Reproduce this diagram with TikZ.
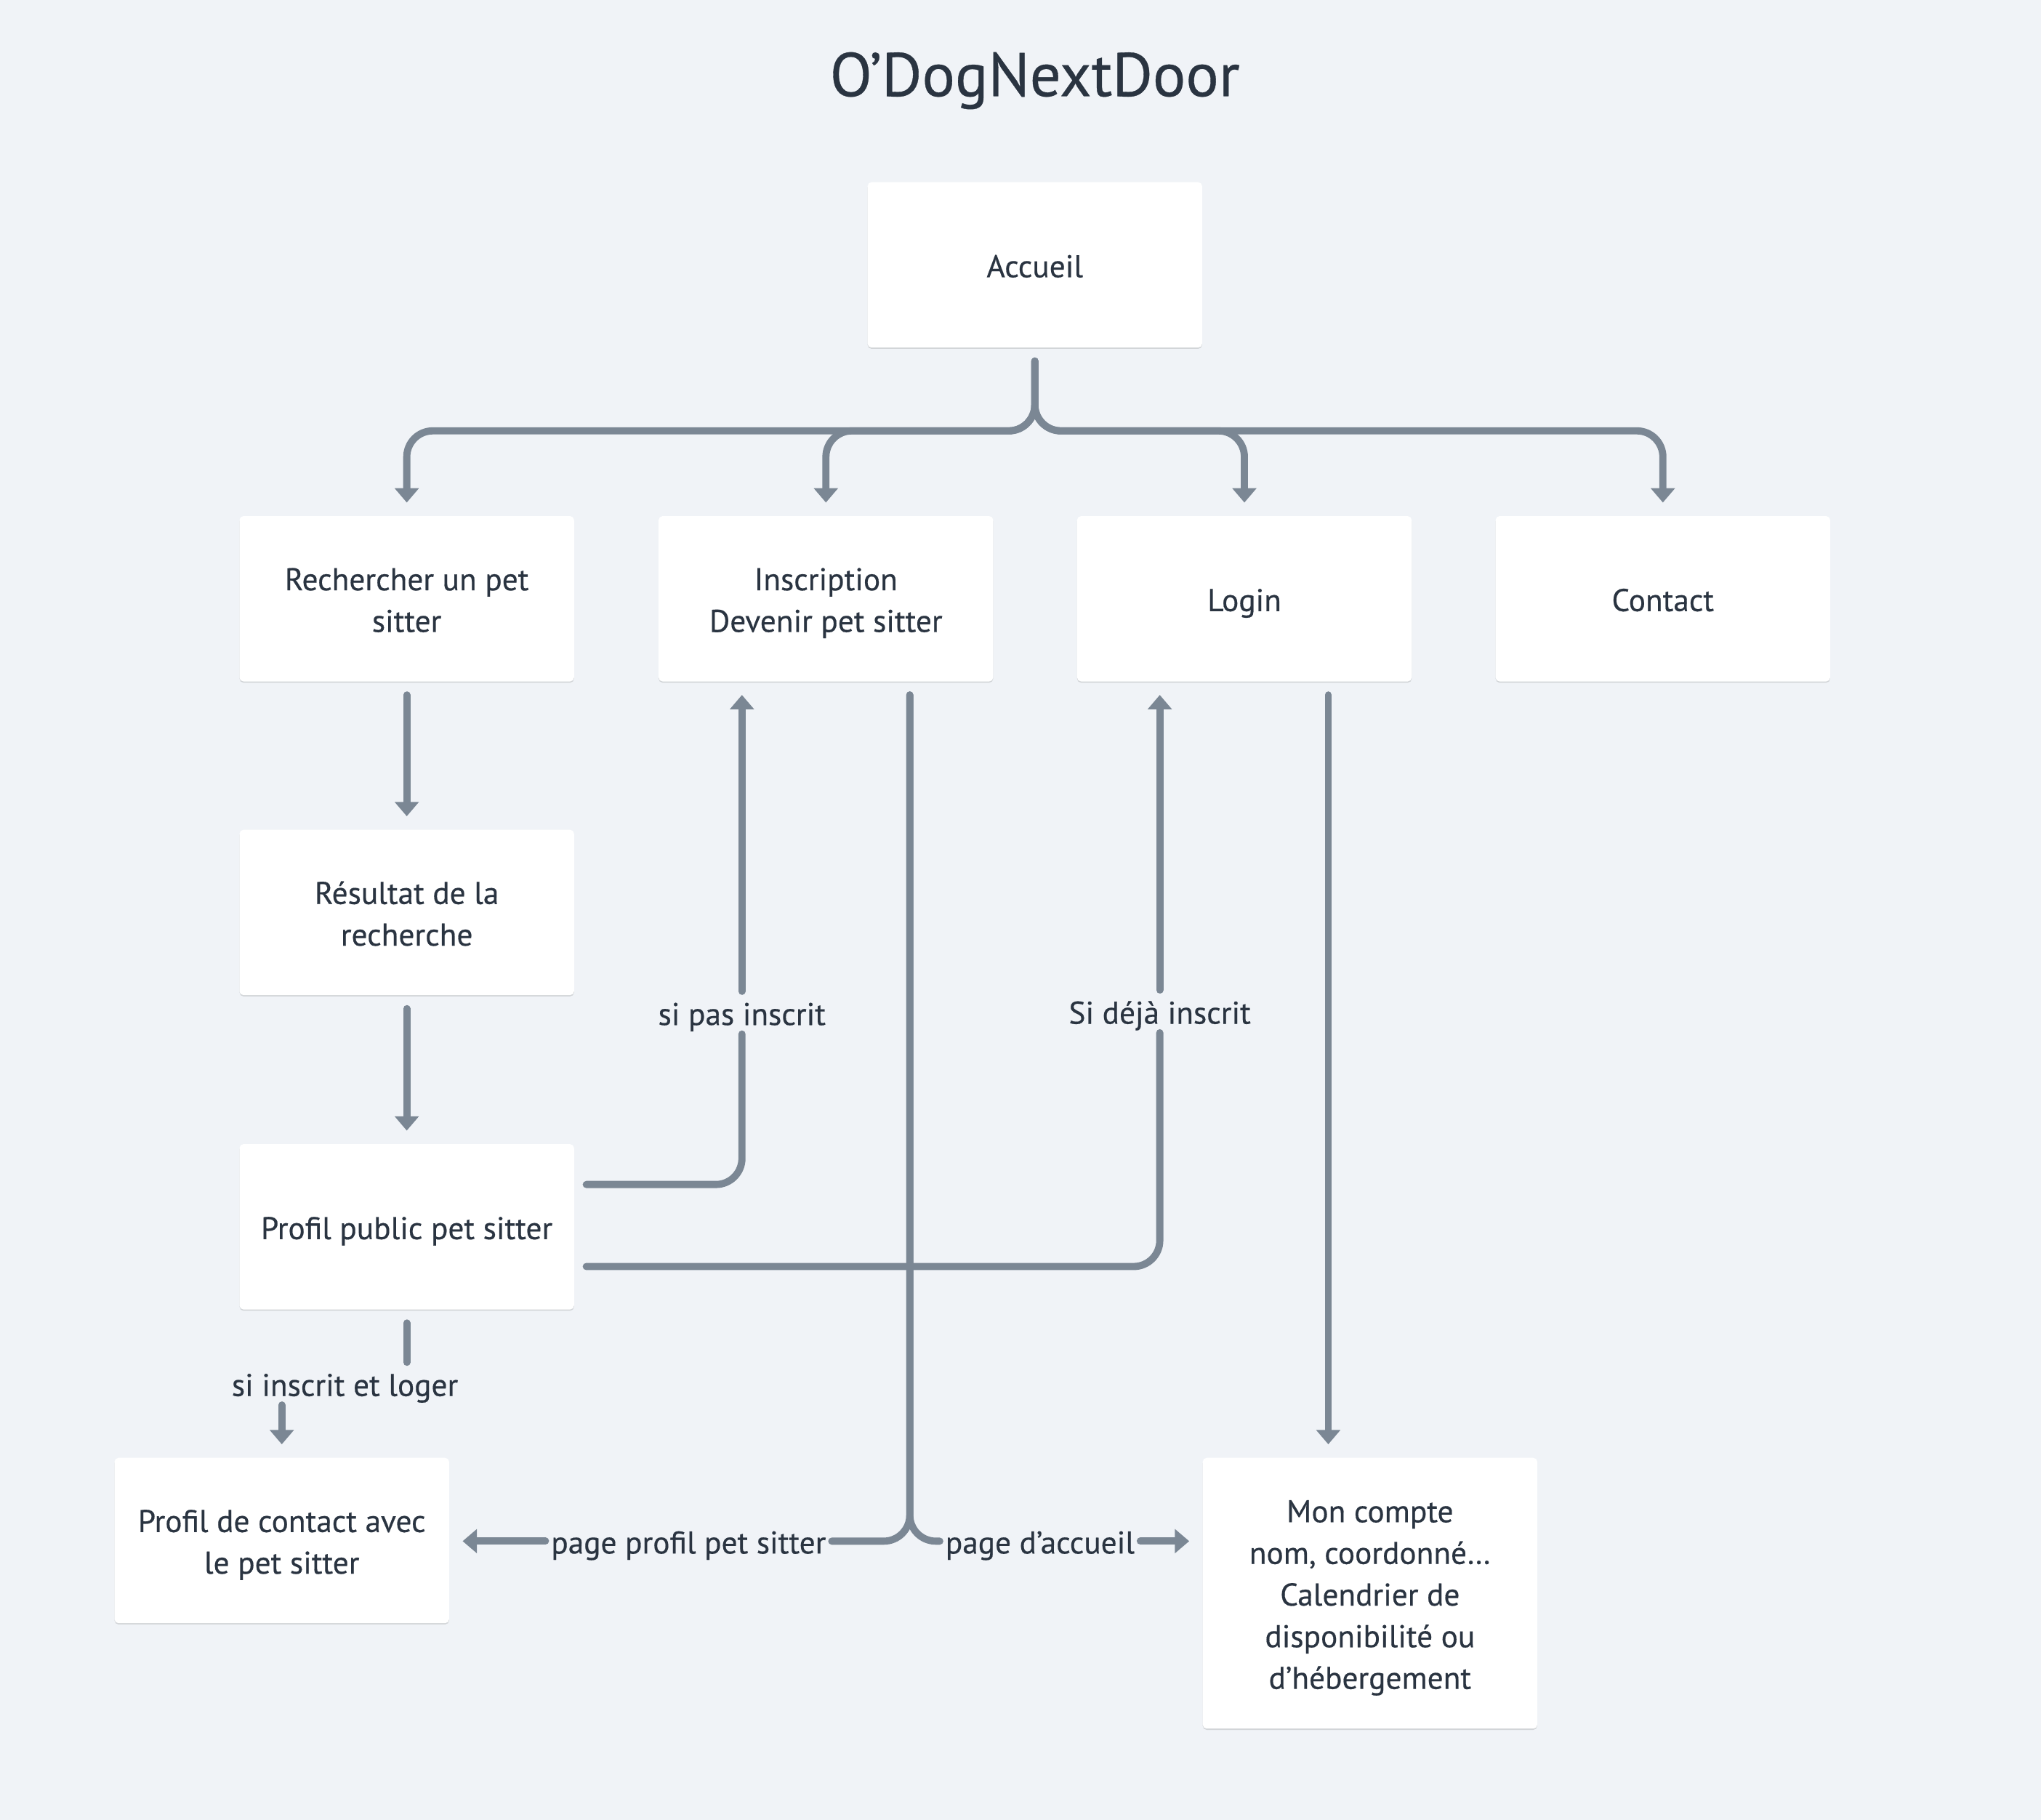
\documentclass[tikz,border=0pt]{standalone}
\usepackage{fontspec}
\setmainfont{PT Sans}[FakeBold=0.4]
\usetikzlibrary{arrows.meta,calc,shadows}
\definecolor{bg}{HTML}{F0F3F7}
\definecolor{ink}{HTML}{2A3441}
\definecolor{edgec}{HTML}{7B8794}
\newcommand{\boxstrut}{\rule[-3.25pt]{0pt}{16pt}}
\begin{document}
\begin{tikzpicture}[x=0.5pt,y=-0.5pt,
  box/.style={rectangle, fill=white, rounded corners=1.5pt, minimum width=128.5pt,
    minimum height=63.5pt, align=center, text=ink, inner sep=0pt,
    font=\fontsize{12.1}{16}\selectfont,
    execute at begin node=\boxstrut, execute at end node=\boxstrut,
    drop shadow={shadow xshift=0pt, shadow yshift=-0.5pt, opacity=0.12, fill=black}},
  conn/.style={draw=edgec, line width=2.75pt, line cap=round, rounded corners=10pt},
  arr/.style={conn, -{Triangle[length=5.5pt,width=9pt]}},
  lbl/.style={text=ink, font=\fontsize{12.1}{16}\selectfont, inner xsep=2pt, inner ysep=0pt,
    execute at begin node=\boxstrut}
]
\fill[bg] (0,0) rectangle (1568,1398);
\useasboundingbox (0,0) rectangle (1568,1398);

\node[text=ink, font=\fontsize{23.7}{28}\selectfont] (title) at (795,62) {O’DogNextDoor};

\node[box] (acc) at (795,203.5) {Accueil};
\node[box] (rech) at (312.5,460) {\boxstrut Rechercher un pet\\sitter\boxstrut};
\node[box] (insc) at (634.5,460) {\boxstrut Inscription\\Devenir pet sitter\boxstrut};
\node[box] (login) at (956,460) {Login};
\node[box] (contact) at (1277.5,460) {Contact};
\node[box] (res) at (312.5,701) {\boxstrut Résultat de la\\recherche\boxstrut};
\node[box] (pp) at (312.5,942.5) {Profil public pet sitter};
\node[box] (cont) at (216.5,1183.5) {\boxstrut Profil de contact avec\\le pet sitter\boxstrut};
\node[box, minimum height=104pt] (mc) at (1052.5,1224) {\boxstrut Mon compte\\nom, coordonné…\\Calendrier de\\disponibilité ou\\d’hébergement\boxstrut};

\coordinate (hub) at (795,331);
\coordinate (i3) at ($(insc.south west)!0.75!(insc.south east)$);
\coordinate (lg3) at ($(login.south west)!0.75!(login.south east)$);

\node[lbl] (l1) at (570,778) {si pas inscrit};
\node[lbl] (l2) at (891,777) {Si déjà inscrit};
\node[lbl] (l3) at (265,1063) {si inscrit et loger};
\node[lbl] (l4) at (529,1184) {page profil pet sitter};
\node[lbl] (l5) at (799,1184) {page d’accueil};

% Accueil branches
\draw[arr, shorten <=5pt, shorten >=5pt] (acc.south) -- (acc.south |- hub) -| (rech.north);
\draw[arr, shorten <=5pt, shorten >=5pt] (acc.south) -- (acc.south |- hub) -| (insc.north);
\draw[arr, shorten <=5pt, shorten >=5pt] (acc.south) -- (acc.south |- hub) -| (login.north);
\draw[arr, shorten <=5pt, shorten >=5pt] (acc.south) -- (acc.south |- hub) -| (contact.north);

% left column
\draw[arr, shorten <=5pt, shorten >=5pt] (rech) -- (res);
\draw[arr, shorten <=5pt, shorten >=5pt] (res) -- (pp);

% profil public -> inscription / login
\draw[conn, shorten <=4.5pt] ($(pp.east)+(0,-32.5)$) -| (l1.south);
\draw[arr, shorten >=5pt] (l1.north) -- (l1.north |- insc.south);
\draw[conn, shorten <=4.5pt] ($(pp.east)+(0,30.5)$) -| (l2.south);
\draw[arr, shorten >=5pt] (l2.north) -- (l2.north |- login.south);

% profil public -> contact
\draw[conn, shorten <=5pt] (pp.south) -- (pp.south |- l3.north);
\draw[arr, shorten >=5pt] (cont.north |- l3.south) -- (cont.north);

% inscription -> split
\draw[conn, shorten <=5pt] (i3) |- (l4.east);
\draw[arr, shorten >=5pt] (l4.west) -- (l4.west -| cont.east);
\draw[conn, shorten <=5pt] (i3) |- (l5.west);
\draw[arr, shorten >=5pt] (l5.east) -- (l5.east -| mc.west);

% login -> mon compte
\draw[arr, shorten <=5pt, shorten >=5pt] (lg3) -- (lg3 |- mc.north);
\end{tikzpicture}
\end{document}
